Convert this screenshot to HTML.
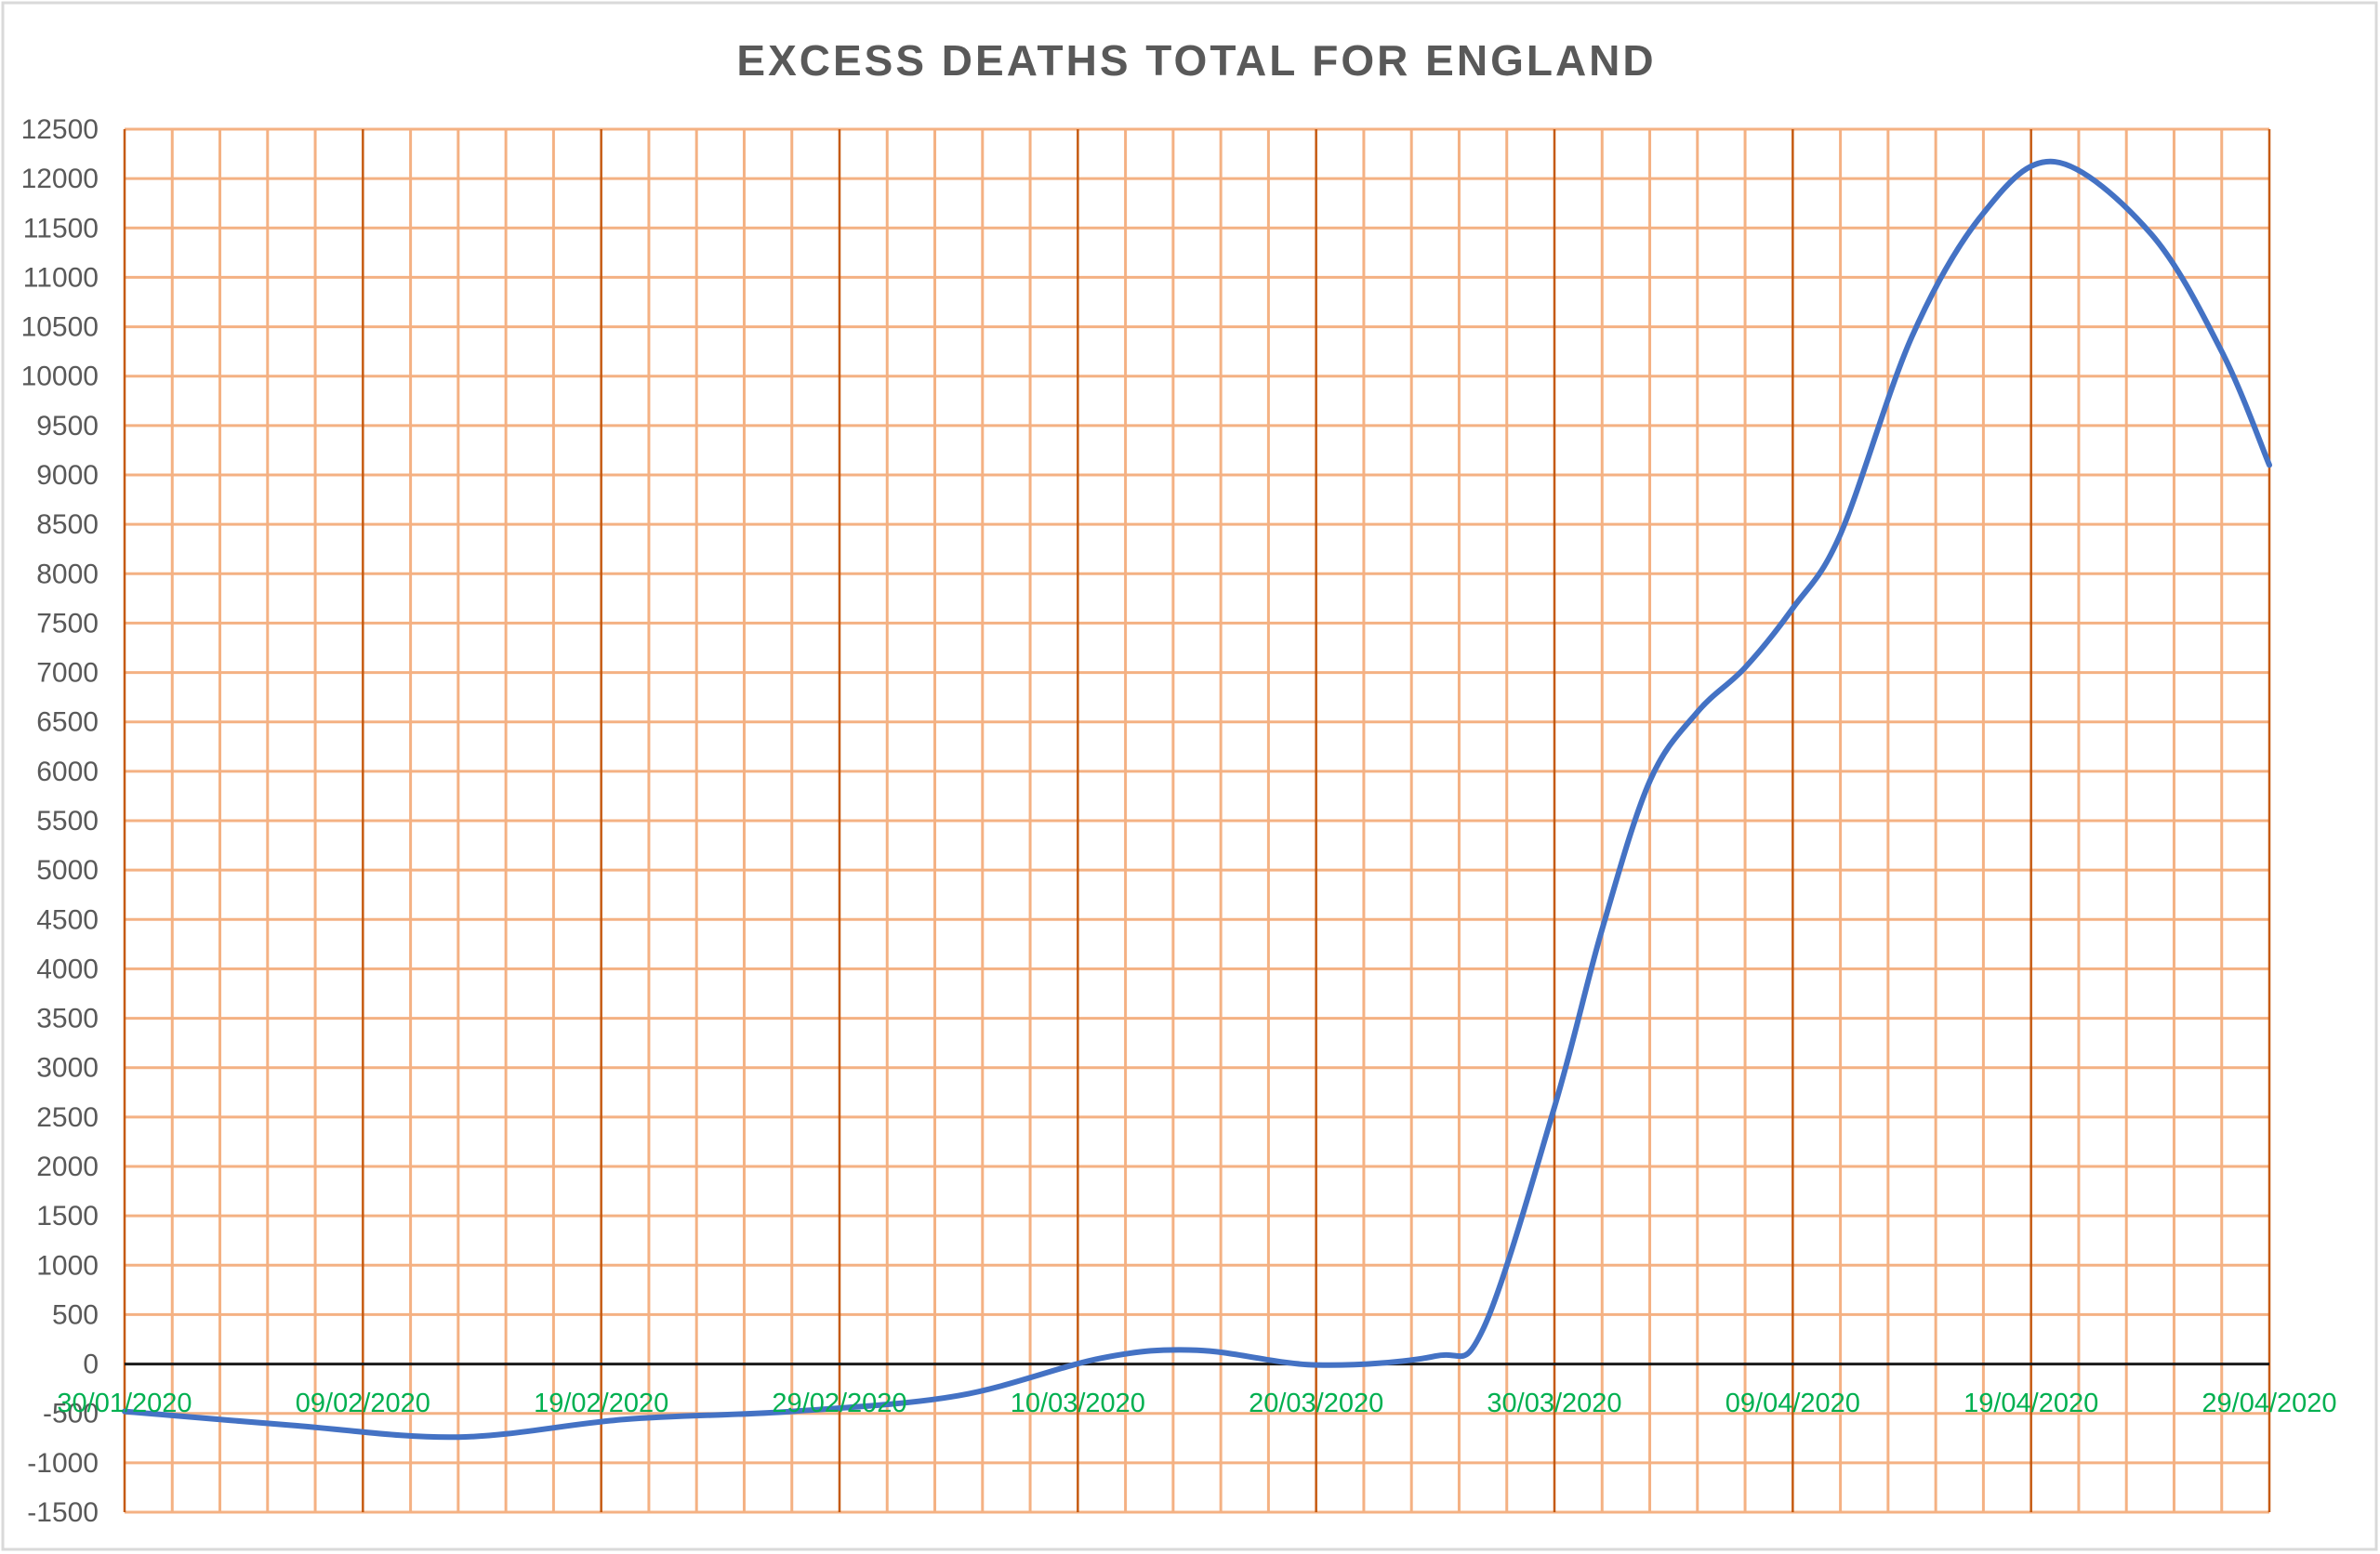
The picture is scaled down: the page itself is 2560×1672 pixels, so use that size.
<!DOCTYPE html>
<html><head><meta charset="utf-8">
<style>
html,body{margin:0;padding:0;background:#fff;}
svg{display:block;}
</style></head>
<body>
<svg id="chart" width="2560" height="1672" viewBox="0 0 2560 1672" xmlns="http://www.w3.org/2000/svg">
<rect x="3" y="3" width="2553" height="1664" fill="#fff" stroke="#d9d9d9" stroke-width="3"/>
<text x="1287" y="81" text-anchor="middle" font-family="Liberation Sans, sans-serif" font-weight="bold" font-size="46" fill="#595959" letter-spacing="3">EXCESS DEATHS TOTAL FOR ENGLAND</text>
<g id="grid"></g><g id="yaxis"></g><g id="series"></g><g id="xaxis"></g>
</svg>
<script>
const yTicks=[12500,12000,11500,11000,10500,10000,9500,9000,8500,8000,7500,7000,6500,6000,5500,5000,4500,4000,3500,3000,2500,2000,1500,1000,500,0,-500,-1000,-1500];
const xTickLabels=["30/01/2020","09/02/2020","19/02/2020","29/02/2020","10/03/2020","20/03/2020","30/03/2020","09/04/2020","19/04/2020","29/04/2020"];
const dayOffsets=[0,7,14,21,28,35,41,45,50,55,57,60,62,64,66,68,70,72,75,78,81,85,88,90];
const excessDeaths=[-480,-620,-740,-560,-480,-320,60,140,-10,80,350,2600,4400,5900,6600,7050,7650,8400,10400,11650,12170,11450,10250,9100];
const NS="http://www.w3.org/2000/svg";
const L=134,R=2441,T=139,B=1627,yMin=-1500,yMax=12500,dMax=90;
const xs=d=>L+(R-L)*d/dMax;
const ys=v=>B-(B-T)*(v-yMin)/(yMax-yMin);
function mk(tag,attrs,parent){const e=document.createElementNS(NS,tag);for(const k in attrs)e.setAttribute(k,attrs[k]);parent.appendChild(e);return e;}
const grid=document.getElementById('grid'),yaxis=document.getElementById('yaxis'),xaxis=document.getElementById('xaxis'),series=document.getElementById('series');
yTicks.forEach(v=>{
  if(v!==0){const ln=mk('line',{x1:L,x2:R,y1:ys(v),y2:ys(v),stroke:'#f4b183','stroke-width':3},grid);
  
  }
  const t=mk('text',{x:106,y:ys(v)+10,'text-anchor':'end','font-family':'Liberation Sans, sans-serif','font-size':30,fill:'#595959'},yaxis);
  t.textContent=v;
  
  
});
for(let d=0;d<=dMax;d+=2){
  const major=d%10===0;
  const ln=mk('line',{x1:xs(d),x2:xs(d),y1:T,y2:B,stroke:major?'#c55a11':'#f4b183','stroke-width':major?2.5:3},grid);
  
  
}
const zl=mk('line',{x1:L,x2:R,y1:ys(0),y2:ys(0),stroke:'#1a1a1a','stroke-width':3},grid);


xTickLabels.forEach((s,i)=>{
  const t=mk('text',{x:xs(i*10),y:1519,'text-anchor':'middle','font-family':'Liberation Sans, sans-serif','font-size':29,fill:'#00b050'},xaxis);
  t.textContent=s;
  
  
});
const P=dayOffsets.map((d,i)=>[xs(d),ys(excessDeaths[i])]);
let dstr='M'+P[0][0]+','+P[0][1];
for(let i=0;i<P.length-1;i++){
  const p0=P[Math.max(0,i-1)],p1=P[i],p2=P[i+1],p3=P[Math.min(P.length-1,i+2)];
  const t=1/6;
  const c1=[p1[0]+(p2[0]-p0[0])*t,p1[1]+(p2[1]-p0[1])*t];
  const c2=[p2[0]-(p3[0]-p1[0])*t,p2[1]-(p3[1]-p1[1])*t];
  dstr+=' C'+c1+' '+c2+' '+p2;
}
const path=mk('path',{d:dstr,fill:'none',stroke:'#4472c4','stroke-width':6,'stroke-linejoin':'round','stroke-linecap':'round'},series);


</script>
</body></html>
